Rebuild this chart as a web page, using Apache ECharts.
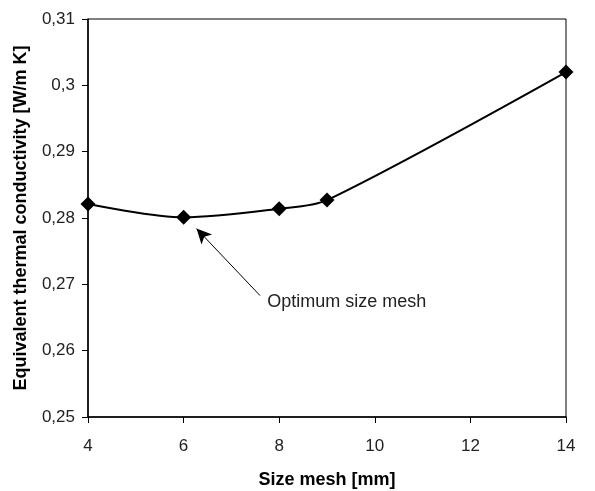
<!DOCTYPE html>
<html><head><meta charset="utf-8">
<script src="https://cdn.jsdelivr.net/npm/echarts@6/dist/echarts.min.js"></script>
<style>html,body{margin:0;padding:0;background:#fff}#c{width:595px;height:491px}</style>
</head><body><div id="c"></div>
<script>
const meshSizes = [4, 6, 8, 9, 14];
const conductivity = [0.2821, 0.2801, 0.2814, 0.2827, 0.3020];
const annotationText = 'Optimum size mesh';
const arrowFrom = [7.6, 0.2683];
const arrowTo = [6.27, 0.2784];
const textAt = [7.75, 0.2673];

const chart = echarts.init(document.getElementById('c'));
const font = 'Liberation Sans, Arial, sans-serif';
chart.setOption({
  animation: false,
  grid: {left: 88, right: 29, top: 19, bottom: 74, show: true, borderColor: '#000', borderWidth: 1,
    containLabel: false, outerBoundsMode: 'none'},
  xAxis: {
    type: 'value', min: 4, max: 14, interval: 2,
    name: 'Size mesh [mm]', nameLocation: 'middle', nameGap: 54,
    nameTextStyle: {fontFamily: font, fontWeight: 'bold', fontSize: 18, color: '#000'},
    axisLine: {lineStyle: {color: '#000', width: 1.5}},
    axisTick: {length: 6, lineStyle: {color: '#000'}},
    axisLabel: {fontFamily: font, fontSize: 17, color: '#222', margin: 21},
    splitLine: {show: false}
  },
  yAxis: {
    type: 'value', min: 0.25, max: 0.31, interval: 0.01,
    name: 'Equivalent thermal conductivity [W/m K]', nameLocation: 'middle', nameGap: 58,
    nameTextStyle: {fontFamily: font, fontWeight: 'bold', fontSize: 18, color: '#000'},
    axisLine: {lineStyle: {color: '#000', width: 1.5}},
    axisTick: {length: 6, lineStyle: {color: '#000'}},
    axisLabel: {fontFamily: font, fontSize: 17, color: '#222', margin: 13,
      formatter: v => String(+v.toFixed(2)).replace('.', ',')},
    splitLine: {show: false}
  },
  series: [{
    type: 'line',
    data: meshSizes.map((x, i) => [x, conductivity[i]]),
    smooth: 0.3,
    symbol: 'diamond', symbolSize: 15,
    itemStyle: {color: '#000'},
    lineStyle: {color: '#000', width: 2},
    markLine: {
      silent: true, symbol: ['none', 'arrow'], symbolSize: [11, 15],
      lineStyle: {color: '#000', width: 1, type: 'solid'},
      label: {show: false},
      data: [[{coord: arrowFrom}, {coord: arrowTo}]]
    },
    markPoint: {
      silent: true, symbol: 'circle', symbolSize: 0,
      label: {show: true, position: 'right', distance: 0, formatter: annotationText,
        fontFamily: font, fontSize: 18, color: '#222'},
      data: [{coord: textAt}]
    }
  }]
});
</script></body></html>
